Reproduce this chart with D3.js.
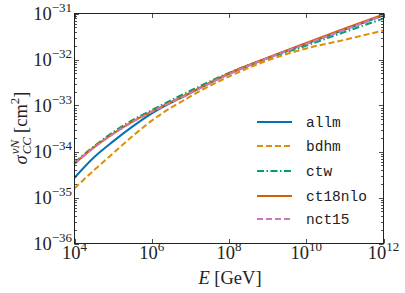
<!DOCTYPE html>
<html><head><meta charset="utf-8">
<script src="https://cdn.jsdelivr.net/npm/d3@7"></script>
<style>html,body{margin:0;padding:0;background:#fff}svg{display:block}
.serif{font-family:"Liberation Serif","DejaVu Serif",serif}
.mono{font-family:"Liberation Mono","DejaVu Sans Mono",monospace}
</style>
</head><body>
<script>
// ---- data ----
const energies = [1e4, 3.16e4, 1e5, 3.16e5, 1e6, 1e7, 1e8, 1e9, 1e10, 1e11, 1e12];
const allm    = [2.69e-35, 7.41e-35, 1.66e-34, 3.47e-34, 6.76e-34, 1.86e-33, 4.90e-33, 1.07e-32, 2.19e-32, 4.47e-32, 9.12e-32];
const bdhm    = [1.58e-35, 3.89e-35, 9.12e-35, 2.14e-34, 4.68e-34, 1.58e-33, 4.27e-33, 9.55e-33, 1.74e-32, 2.69e-32, 4.27e-32];
const ctw     = [5.75e-35, 1.29e-34, 2.63e-34, 4.79e-34, 7.94e-34, 2.09e-33, 5.13e-33, 1.07e-32, 2.00e-32, 3.98e-32, 7.76e-32];
const ct18nlo = [5.50e-35, 1.23e-34, 2.45e-34, 4.47e-34, 7.41e-34, 1.91e-33, 5.01e-33, 1.10e-32, 2.29e-32, 4.72e-32, 9.55e-32];
const nct15   = [5.37e-35, 1.20e-34, 2.40e-34, 4.37e-34, 7.24e-34, 1.86e-33, 4.79e-33, 1.07e-32, 2.19e-32, 4.47e-32, 9.12e-32];
const seriesNames = ["allm", "bdhm", "ctw", "ct18nlo", "nct15"];
const xTickExps = [4, 6, 8, 10, 12];
const yTickExps = [-36, -35, -34, -33, -32, -31];

// ---- styles ----
const W = 405, H = 293;
const colors = {allm:"#0173b2", bdhm:"#de8f05", ctw:"#029e73", ct18nlo:"#d55e00", nct15:"#cc78bc"};
const dashes = {allm:null, bdhm:"6,3", ctw:"7,2.5,1.5,2.5", ct18nlo:null, nct15:"6,3"};
const values = {allm, bdhm, ctw, ct18nlo, nct15};

const svg = d3.select("body").append("svg").attr("width", W).attr("height", H);
const L = 74.5, R = 383.5, T = 13.5, B = 243.5;
const x = d3.scaleLog().domain([1e4, 1e12]).range([L, R]);
const y = d3.scaleLog().domain([1e-36, 1e-31]).range([B, T]);

const ink = "#222";

svg.append("clipPath").attr("id","clip").append("rect")
  .attr("x", L).attr("y", T).attr("width", R-L).attr("height", B-T);

// curves
const line = d3.line().x((d,i)=>x(energies[i])).y(d=>y(d)).curve(d3.curveMonotoneX);
const gLines = svg.append("g").attr("clip-path","url(#clip)");
seriesNames.forEach(n=>{
  gLines.append("path").attr("d", line(values[n]))
    .attr("fill","none").attr("stroke", colors[n]).attr("stroke-width", 2)
    .attr("stroke-dasharray", dashes[n]);
});

// frame
svg.append("rect").attr("x", L).attr("y", T).attr("width", R-L).attr("height", B-T)
  .attr("fill","none").attr("stroke", ink).attr("stroke-width", 1);

// ticks (inward, both sides)
const tickG = svg.append("g").attr("stroke", ink).attr("stroke-width", 0.8);
xTickExps.forEach(e=>{
  const px = Math.round(x(Math.pow(10,e))) + 0.5;
  tickG.append("line").attr("x1",px).attr("x2",px).attr("y1",B).attr("y2",B-4.5);
  tickG.append("line").attr("x1",px).attr("x2",px).attr("y1",T).attr("y2",T+4.5);
});
yTickExps.forEach(e=>{
  const py = Math.round(y(Math.pow(10,e))) + 0.5;
  tickG.append("line").attr("x1",L).attr("x2",L+4.5).attr("y1",py).attr("y2",py);
  tickG.append("line").attr("x1",R).attr("x2",R-4.5).attr("y1",py).attr("y2",py);
  if (e < -31) {
    for (let m=2;m<=9;m++){
      const pm = Math.round(y(m*Math.pow(10,e))) + 0.5;
      tickG.append("line").attr("x1",L).attr("x2",L+2.5).attr("y1",pm).attr("y2",pm);
      tickG.append("line").attr("x1",R).attr("x2",R-2.5).attr("y1",pm).attr("y2",pm);
    }
  }
});

// tick labels
function powLabel(g, exp, anchorX, baseY, align){
  const t = g.append("text").attr("class","serif").attr("y", baseY).attr("fill", ink);
  t.append("tspan").attr("font-size", 18.5).text("10");
  t.append("tspan").attr("font-size", 13).attr("dy", -8).text(String(exp).replace("-", "\u2212"));
  const w = t.node().getComputedTextLength();
  t.attr("x", align === "middle" ? anchorX - w/2 : anchorX - w);
}
const lab = svg.append("g");
xTickExps.forEach(e=> powLabel(lab, e, x(Math.pow(10,e)), 259, "middle"));
yTickExps.forEach(e=> powLabel(lab, e, 72, y(Math.pow(10,e)) + 6, "end"));

// x axis label
const xl = svg.append("text").attr("class","serif").attr("x", 230).attr("y", 284).attr("text-anchor","middle")
  .attr("font-size", 18.5).attr("fill", ink);
xl.append("tspan").attr("font-style","italic").text("E");
xl.append("tspan").text(" [GeV]");

// y axis label (rotated)
const yg = svg.append("g").attr("transform","translate(27,128) rotate(-90)");
const parts = [];
let cx = 0;
function piece(txt, size, dy, italic){
  const t = yg.append("text").attr("class","serif").attr("font-size", size)
    .attr("fill", ink).attr("y", dy).attr("x", cx).text(txt);
  if (italic) t.attr("font-style","italic");
  parts.push(t);
  return t.node().getComputedTextLength();
}
cx += piece("\u03C3", 18.5, 0, true) + 1;
const w1 = piece("\u03BDN", 13, -8, true);
const w2 = piece("CC", 13, 4, true);
cx += Math.max(w1, w2) + 4;
cx += piece("[cm", 18.5, 0, false);
cx += piece("2", 13, -8, false);
cx += piece("]", 18.5, 0, false);
parts.forEach(p=> p.attr("x", +p.attr("x") - cx/2));

// legend
const legY = [122, 146, 171, 196, 219];
const leg = svg.append("g");
seriesNames.forEach((n,i)=>{
  leg.append("line").attr("x1",257).attr("x2",292).attr("y1",legY[i]).attr("y2",legY[i])
    .attr("stroke", colors[n]).attr("stroke-width", 2).attr("stroke-dasharray", dashes[n]);
  leg.append("text").attr("class","mono").attr("x",306).attr("y",legY[i]+5)
    .attr("font-size", 14.5).attr("fill", ink).text(n);
});
</script>
</body></html>
